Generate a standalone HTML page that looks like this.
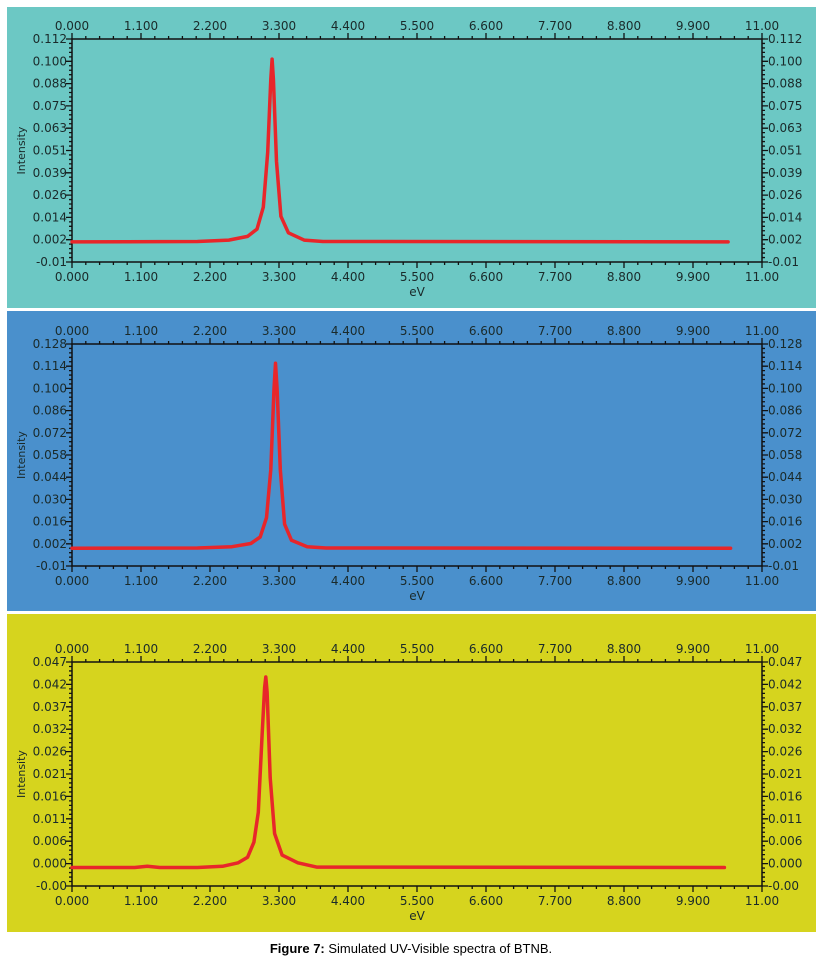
<!DOCTYPE html>
<html><head><meta charset="utf-8"><style>
body{margin:0;background:#fff;width:823px;height:964px;overflow:hidden}
svg text{font-family:"DejaVu Sans","Liberation Sans",sans-serif;font-size:12px;fill:#1a2a2a}
</style></head><body>
<svg id="s" width="823" height="964">
<text x="411" y="953" text-anchor="middle" style="font-family:'Liberation Sans',sans-serif;font-size:13px;fill:#000"><tspan font-weight="bold">Figure 7:</tspan> Simulated UV-Visible spectra of BTNB.</text>
</svg>
<script>
const xTicks=["0.000","1.100","2.200","3.300","4.400","5.500","6.600","7.700","8.800","9.900","11.00"];
const p1Ticks=["-0.01","0.002","0.014","0.026","0.039","0.051","0.063","0.075","0.088","0.100","0.112"];
const p2Ticks=["-0.01","0.002","0.016","0.030","0.044","0.058","0.072","0.086","0.100","0.114","0.128"];
const p3Ticks=["-0.00","0.000","0.006","0.011","0.016","0.021","0.026","0.032","0.037","0.042","0.047"];
const p1X=[0,2.0,2.5,2.8,2.95,3.05,3.12,3.17,3.19,3.21,3.26,3.33,3.45,3.7,4.0,10.46];
const p1Y=[0.001,0.0012,0.002,0.004,0.008,0.02,0.05,0.09,0.101,0.09,0.045,0.015,0.006,0.002,0.0012,0.001];
const p2X=[0,2.0,2.55,2.85,3.0,3.1,3.17,3.22,3.245,3.27,3.32,3.39,3.5,3.75,4.05,10.5];
const p2Y=[0.001,0.0012,0.002,0.004,0.008,0.02,0.05,0.1,0.116,0.1,0.05,0.016,0.006,0.002,0.0012,0.001];
const p3X=[0,1.0,1.2,1.4,2.0,2.4,2.65,2.8,2.9,2.97,3.03,3.07,3.09,3.11,3.16,3.23,3.35,3.6,3.9,10.4];
const p3Y=[-0.0009,-0.0009,-0.0006,-0.0009,-0.0009,-0.0006,0.0002,0.0015,0.005,0.012,0.03,0.041,0.0435,0.04,0.02,0.007,0.002,0.0002,-0.0008,-0.0009];
const panels=[
 {name:"top",bg:"#6cc8c4",by:7,bh:301,t:39,b:262,ticks:p1Ticks,min:-0.01,max:0.112,xs:p1X,ys:p1Y},
 {name:"middle",bg:"#4a90cc",by:311,bh:300,t:344,b:566,ticks:p2Ticks,min:-0.01,max:0.128,xs:p2X,ys:p2Y},
 {name:"bottom",bg:"#d6d41e",by:614,bh:318,t:662,b:886,ticks:p3Ticks,min:-0.0052,max:0.047,xs:p3X,ys:p3Y}];
const S=document.getElementById('s'),NS="http://www.w3.org/2000/svg";
function mk(t,a,p){const e=document.createElementNS(NS,t);for(const k in a)e.setAttribute(k,a[k]);(p||S).appendChild(e);return e;}
const L=72,R=762;
const sx=v=>L+(v-0)/11*(R-L);
panels.forEach(P=>{
 const g=mk('g',{});
 
 
 const bg=mk('rect',{x:7,y:P.by,width:809,height:P.bh,fill:P.bg},g);
 
 
 const sy=v=>P.b-(v-P.min)/(P.max-P.min)*(P.b-P.t);
 const fr=mk('rect',{x:L,y:P.t,width:R-L,height:P.b-P.t,fill:'none',stroke:'#111','stroke-width':1.5},g);
 
 
 let d='';
 for(let i=0;i<=10;i++){
  const x=L+i*(R-L)/10;
  d+=`M${x} ${P.t}v-6M${x} ${P.b}v6`;
  if(i<10)for(let j=1;j<5;j++){const xm=x+j*(R-L)/50;d+=`M${xm} ${P.t}v-3M${xm} ${P.b}v3`;}
  const y=P.b-i*(P.b-P.t)/10;
  d+=`M${L} ${y}h-6M${R} ${y}h6`;
  if(i<10)for(let j=1;j<5;j++){const ym=y-j*(P.b-P.t)/50;d+=`M${L} ${ym}h-3M${R} ${ym}h3`;}
  const tt=mk('text',{x:x,y:P.t-9,'text-anchor':'middle'},g);tt.textContent=xTicks[i];
  
  
  const tb=mk('text',{x:x,y:P.b+19,'text-anchor':'middle'},g);tb.textContent=xTicks[i];
  
  
  const yl=mk('text',{x:L-5,y:y+4,'text-anchor':'end'},g);yl.textContent=P.ticks[i];
  
  
  const yr=mk('text',{x:R+6,y:y+4},g);yr.textContent=P.ticks[i];
  
  
 }
 const tk=mk('path',{d:d,stroke:'#111','stroke-width':1.3,fill:'none'},g);
 
 
 const cy=(P.t+P.b)/2;
 const yt=mk('text',{x:25,y:cy,'text-anchor':'middle',transform:`rotate(-90 25 ${cy})`,style:'font-size:11px'},g);yt.textContent='Intensity';
 
 
 const xt=mk('text',{x:(L+R)/2,y:P.b+34,'text-anchor':'middle'},g);xt.textContent='eV';
 
 
 const pts=P.xs.map((v,i)=>sx(v).toFixed(1)+','+sy(P.ys[i]).toFixed(1)).join(' ');
 const ln=mk('polyline',{points:pts,fill:'none',stroke:'#e8262a','stroke-width':3.5,'stroke-linejoin':'round','stroke-linecap':'round'},g);
 
 
});
</script>
</body></html>
